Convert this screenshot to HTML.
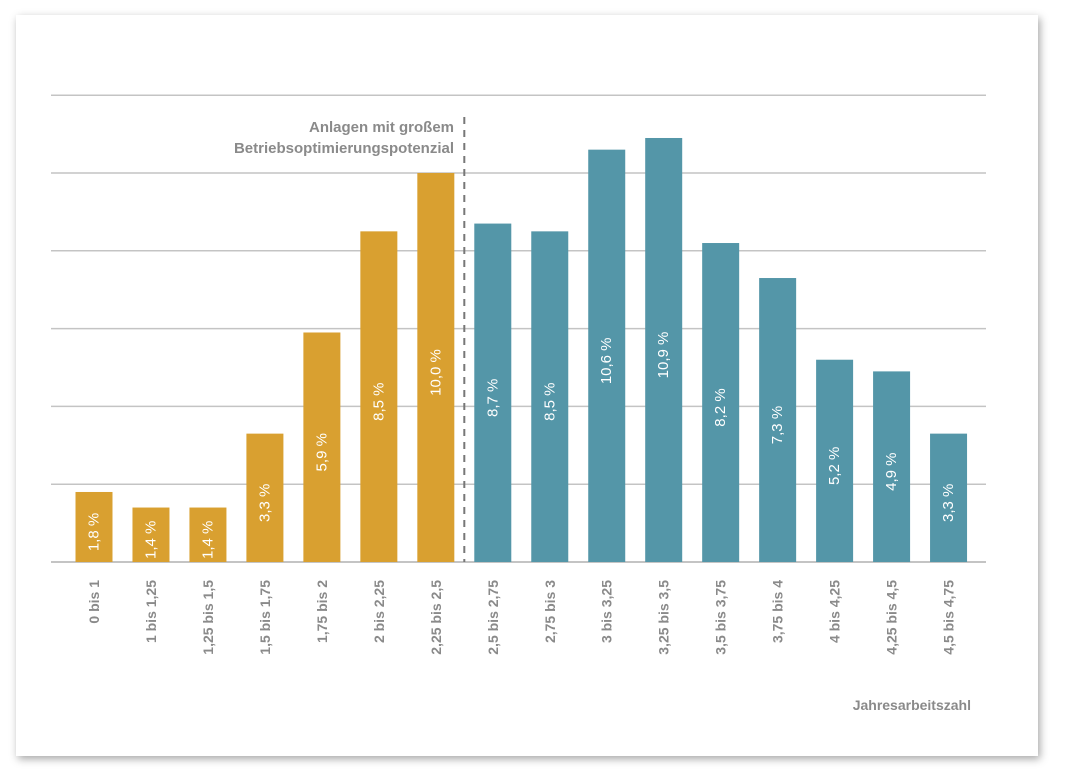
<!DOCTYPE html>
<html><head><meta charset="utf-8"><style>
body{margin:0;width:1066px;height:784px;background:#fff;overflow:hidden;font-family:"Liberation Sans",sans-serif}
#card{position:absolute;left:16px;top:15px;width:1022px;height:741px;background:#fff;box-shadow:2px 3px 8px rgba(0,0,0,0.35)}
svg{position:absolute;left:0;top:0}
</style></head><body>
<div id="card"></div>
<svg id="chart" width="1066" height="784"></svg>
<script>
const categories=["0 bis 1","1 bis 1,25","1,25 bis 1,5","1,5 bis 1,75","1,75 bis 2","2 bis 2,25","2,25 bis 2,5","2,5 bis 2,75","2,75 bis 3","3 bis 3,25","3,25 bis 3,5","3,5 bis 3,75","3,75 bis 4","4 bis 4,25","4,25 bis 4,5","4,5 bis 4,75"];
const values=[1.8,1.4,1.4,3.3,5.9,8.5,10.0,8.7,8.5,10.6,10.9,8.2,7.3,5.2,4.9,3.3];
const valueLabels=["1,8 %","1,4 %","1,4 %","3,3 %","5,9 %","8,5 %","10,0 %","8,7 %","8,5 %","10,6 %","10,9 %","8,2 %","7,3 %","5,2 %","4,9 %","3,3 %"];
const gridTicks=[0,2,4,6,8,10,12];
const highlightCount=7;
const NS="http://www.w3.org/2000/svg";
const svg=document.getElementById('chart');
const y0=562,pxPer=38.9,x0=94,step=56.97,bw=37;
const yScale=v=>y0-v*pxPer;
const xScale=i=>x0+i*step;
function mk(t,a){const e=document.createElementNS(NS,t);for(const k in a)e.setAttribute(k,a[k]);svg.appendChild(e);return e;}
gridTicks.forEach(t=>{
 const l=mk('line',{x1:51,x2:986,y1:yScale(t),y2:yScale(t),stroke:'#c4c4c4','stroke-width':t===0?2:1.5});
 
 
});
values.forEach((v,i)=>{
 const cx=xScale(i);
 const r=mk('rect',{x:cx-bw/2,y:yScale(v),width:bw,height:v*pxPer,fill:i<highlightCount?'#D9A030':'#5496A8'});
 
 
 const cy=(yScale(v)+y0)/2+5;
 const t=mk('text',{x:cx,y:cy,transform:`rotate(-90 ${cx} ${cy})`,'text-anchor':'middle','dominant-baseline':'central',fill:'#fff','font-size':15});
 t.textContent=valueLabels[i];
 
 
 const ly=580;
 const c=mk('text',{x:cx,y:ly,transform:`rotate(-90 ${cx} ${ly})`,'text-anchor':'end','dominant-baseline':'central',fill:'#8a8a8a','font-size':14,'font-weight':'bold'});
 c.textContent=categories[i];
 
 
});
const dx=(xScale(highlightCount-1)+xScale(highlightCount))/2;
const d=mk('line',{x1:dx,x2:dx,y1:117,y2:562,stroke:'#777','stroke-width':2,'stroke-dasharray':'7,6'});


[["Anlagen mit großem",132],["Betriebsoptimierungspotenzial",153]].forEach(([s,y])=>{
 const t=mk('text',{x:454,y:y,'text-anchor':'end',fill:'#8a8a8a','font-size':15,'font-weight':'bold'});
 t.textContent=s;
 
 
});
const xt=mk('text',{x:971,y:710,'text-anchor':'end',fill:'#8a8a8a','font-size':14,'font-weight':'bold'});
xt.textContent="Jahresarbeitszahl";


</script>
</body></html>
